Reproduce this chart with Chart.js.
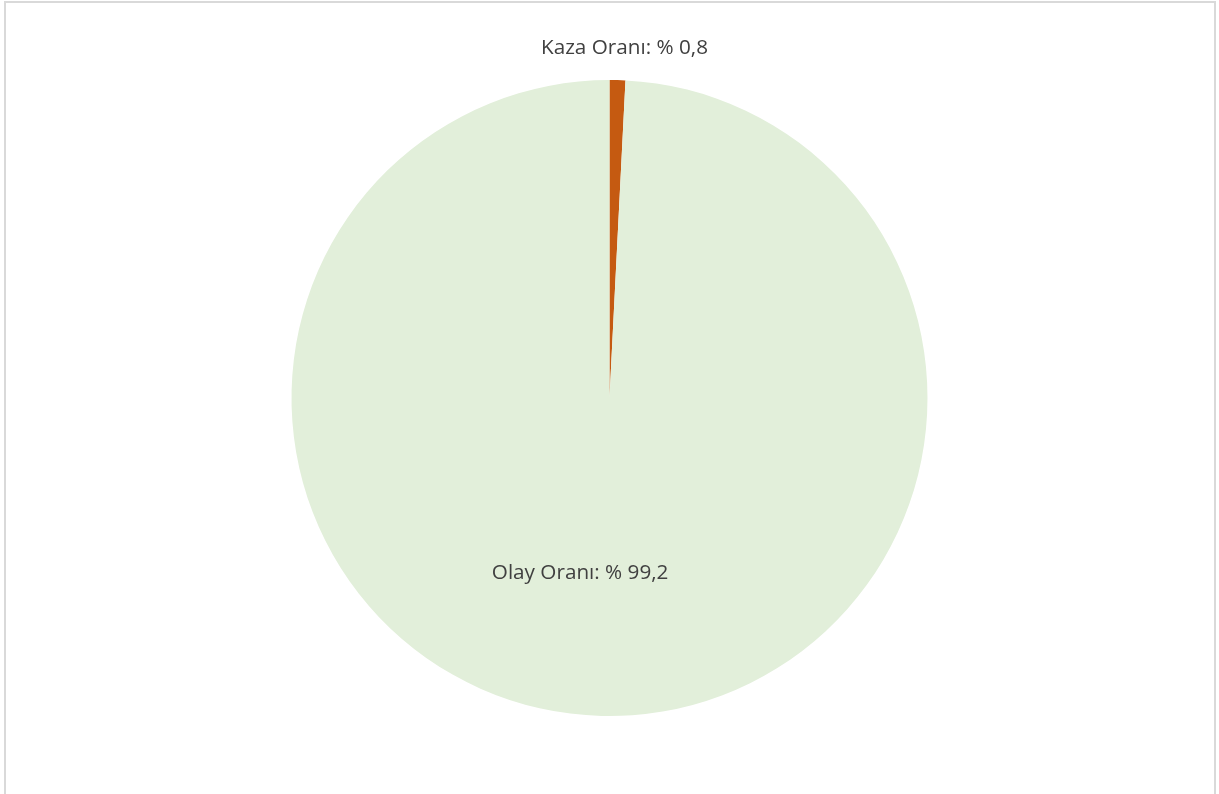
<!DOCTYPE html>
<html>
<head>
<meta charset="utf-8">
<script src="https://cdn.jsdelivr.net/npm/chart.js@4/dist/chart.umd.min.js"></script>
<style>
    html, body { margin: 0; padding: 0; background: #fff; }
    .wrap { position: relative; width: 1219px; height: 794px; }
    .frame {
        position: absolute; left: 4px; top: 1px; width: 1208px; height: 800px;
        border: 2px solid #d9d9d9; border-bottom: none;
    }
    canvas { position: absolute; left: 0; top: 0; }
</style>
</head>
<body>
<div class="wrap">
    <div class="frame"></div>
    <canvas id="pieChart" width="1219" height="794"></canvas>
</div>
<script>
// Data
const categories = ['Kaza Oranı', 'Olay Oranı'];
const shares = [0.8, 99.2];
const sliceColors = ['#C55A11', '#E2EFDA'];

// Turkish style percent text: "% 0,8"
const formatShare = v => '% ' + v.toFixed(1).replace('.', ',');

// Labels: small slice outside, big slice inside
const sliceLabels = {
    id: 'sliceLabels',
    afterDatasetsDraw(chart) {
        const ctx = chart.ctx;
        const meta = chart.getDatasetMeta(0);
        ctx.save();
        ctx.font = '20.7px "Open Sans", sans-serif';
        ctx.fillStyle = '#404040';
        ctx.textAlign = 'center';
        ctx.textBaseline = 'middle';
        meta.data.forEach((arc, i) => {
            const mid = (arc.startAngle + arc.endAngle) / 2;
            const r = arc.outerRadius;
            let x, y;
            if (i === 0) {
                x = arc.x + Math.cos(mid) * r + 7;
                y = arc.y + Math.sin(mid) * r - 32;
            } else {
                x = arc.x + Math.cos(mid) * r * 0.55 - 25;
                y = arc.y + Math.sin(mid) * r * 0.55;
            }
            ctx.fillText(categories[i] + ': ' + formatShare(shares[i]), x, y);
        });
        ctx.restore();
    }
};

const pieChart = new Chart(
    document.getElementById('pieChart'),
    {
        type: 'pie',
        data: {
            labels: categories,
            datasets: [{
                data: shares,
                backgroundColor: sliceColors,
                borderWidth: 0
            }]
        },
        options: {
            responsive: false,
            animation: false,
            layout: {
                padding: { top: 80, bottom: 78, left: 0, right: 0 }
            },
            plugins: {
                legend: { display: false },
                tooltip: { enabled: false }
            }
        },
        plugins: [sliceLabels]
    }
);
</script>
</body>
</html>
